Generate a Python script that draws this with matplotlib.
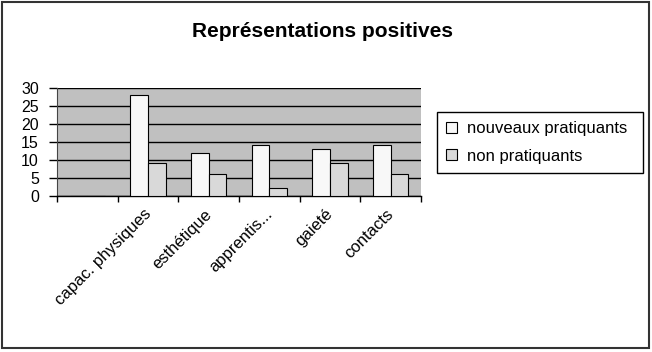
import matplotlib.pyplot as plt
import numpy as np
from matplotlib.patches import Rectangle

plt.rcParams['font.family'] = ['Liberation Sans', 'DejaVu Sans']

categories = ['', 'capac. physiques', 'esthétique', 'apprentis...', 'gaieté', 'contacts']
nouveaux = [0, 28, 12, 14, 13, 14]
non_prat = [0, 9, 6, 2, 9, 6]

fig = plt.figure(figsize=(6.52, 3.52), dpi=100)
# outer chart frame
fig.patches.append(Rectangle((0.0035, 0.0114), 0.992, 0.983, transform=fig.transFigure,
                             fill=False, edgecolor='#333333', linewidth=1.5))

ax = fig.add_axes([0.0874, 0.4446, 0.5583, 0.3054])
ax.set_facecolor('#c0c0c0')

x = np.arange(len(categories))
w = 0.29
ax.bar(x - w / 2, nouveaux, w, color='#f8f8f8', edgecolor='black', linewidth=0.8,
       label='nouveaux pratiquants', zorder=3)
ax.bar(x + w / 2, non_prat, w, color='#d9d9d9', edgecolor='black', linewidth=0.8,
       label='non pratiquants', zorder=3)

ax.set_xlim(-0.5, len(categories) - 0.5)
ax.set_ylim(0, 30)
ax.set_yticks(range(0, 31, 5))
ax.yaxis.grid(True, color='black', linewidth=1, zorder=1)
ax.tick_params(axis='y', labelsize=11.5, length=6, width=1, pad=7)

# category boundaries get the tick marks, labels sit near the centres
ax.set_xticks(np.arange(-0.5, len(categories)), labels=[])
ax.set_xticks(x - 0.08, labels=categories, minor=True)
ax.tick_params(axis='x', which='major', length=4.5, width=1)
ax.tick_params(axis='x', which='minor', length=0, labelsize=12, pad=8)
for lbl in ax.get_xticklabels(minor=True):
    lbl.set_rotation(45)
    lbl.set_ha('right')
    lbl.set_rotation_mode('anchor')

for s in ['top', 'right']:
    ax.spines[s].set_visible(False)
ax.spines['left'].set_color('#444444')
ax.spines['bottom'].set_linewidth(1)

fig.text(0.4946, 0.895, 'Représentations positives', ha='center', va='baseline',
         fontsize=15, fontweight='bold')

leg = fig.legend(loc='upper left', bbox_to_anchor=(0.6702, 0.3, 0.316, 0.3818),
                 mode='expand', borderaxespad=0, fancybox=False, edgecolor='black',
                 fontsize=12, handlelength=0.65, handleheight=0.65, handletextpad=0.6,
                 labelspacing=0.75, borderpad=0.55, framealpha=1)
leg.get_frame().set_linewidth(1)

fig.savefig('out.png', dpi=100)
